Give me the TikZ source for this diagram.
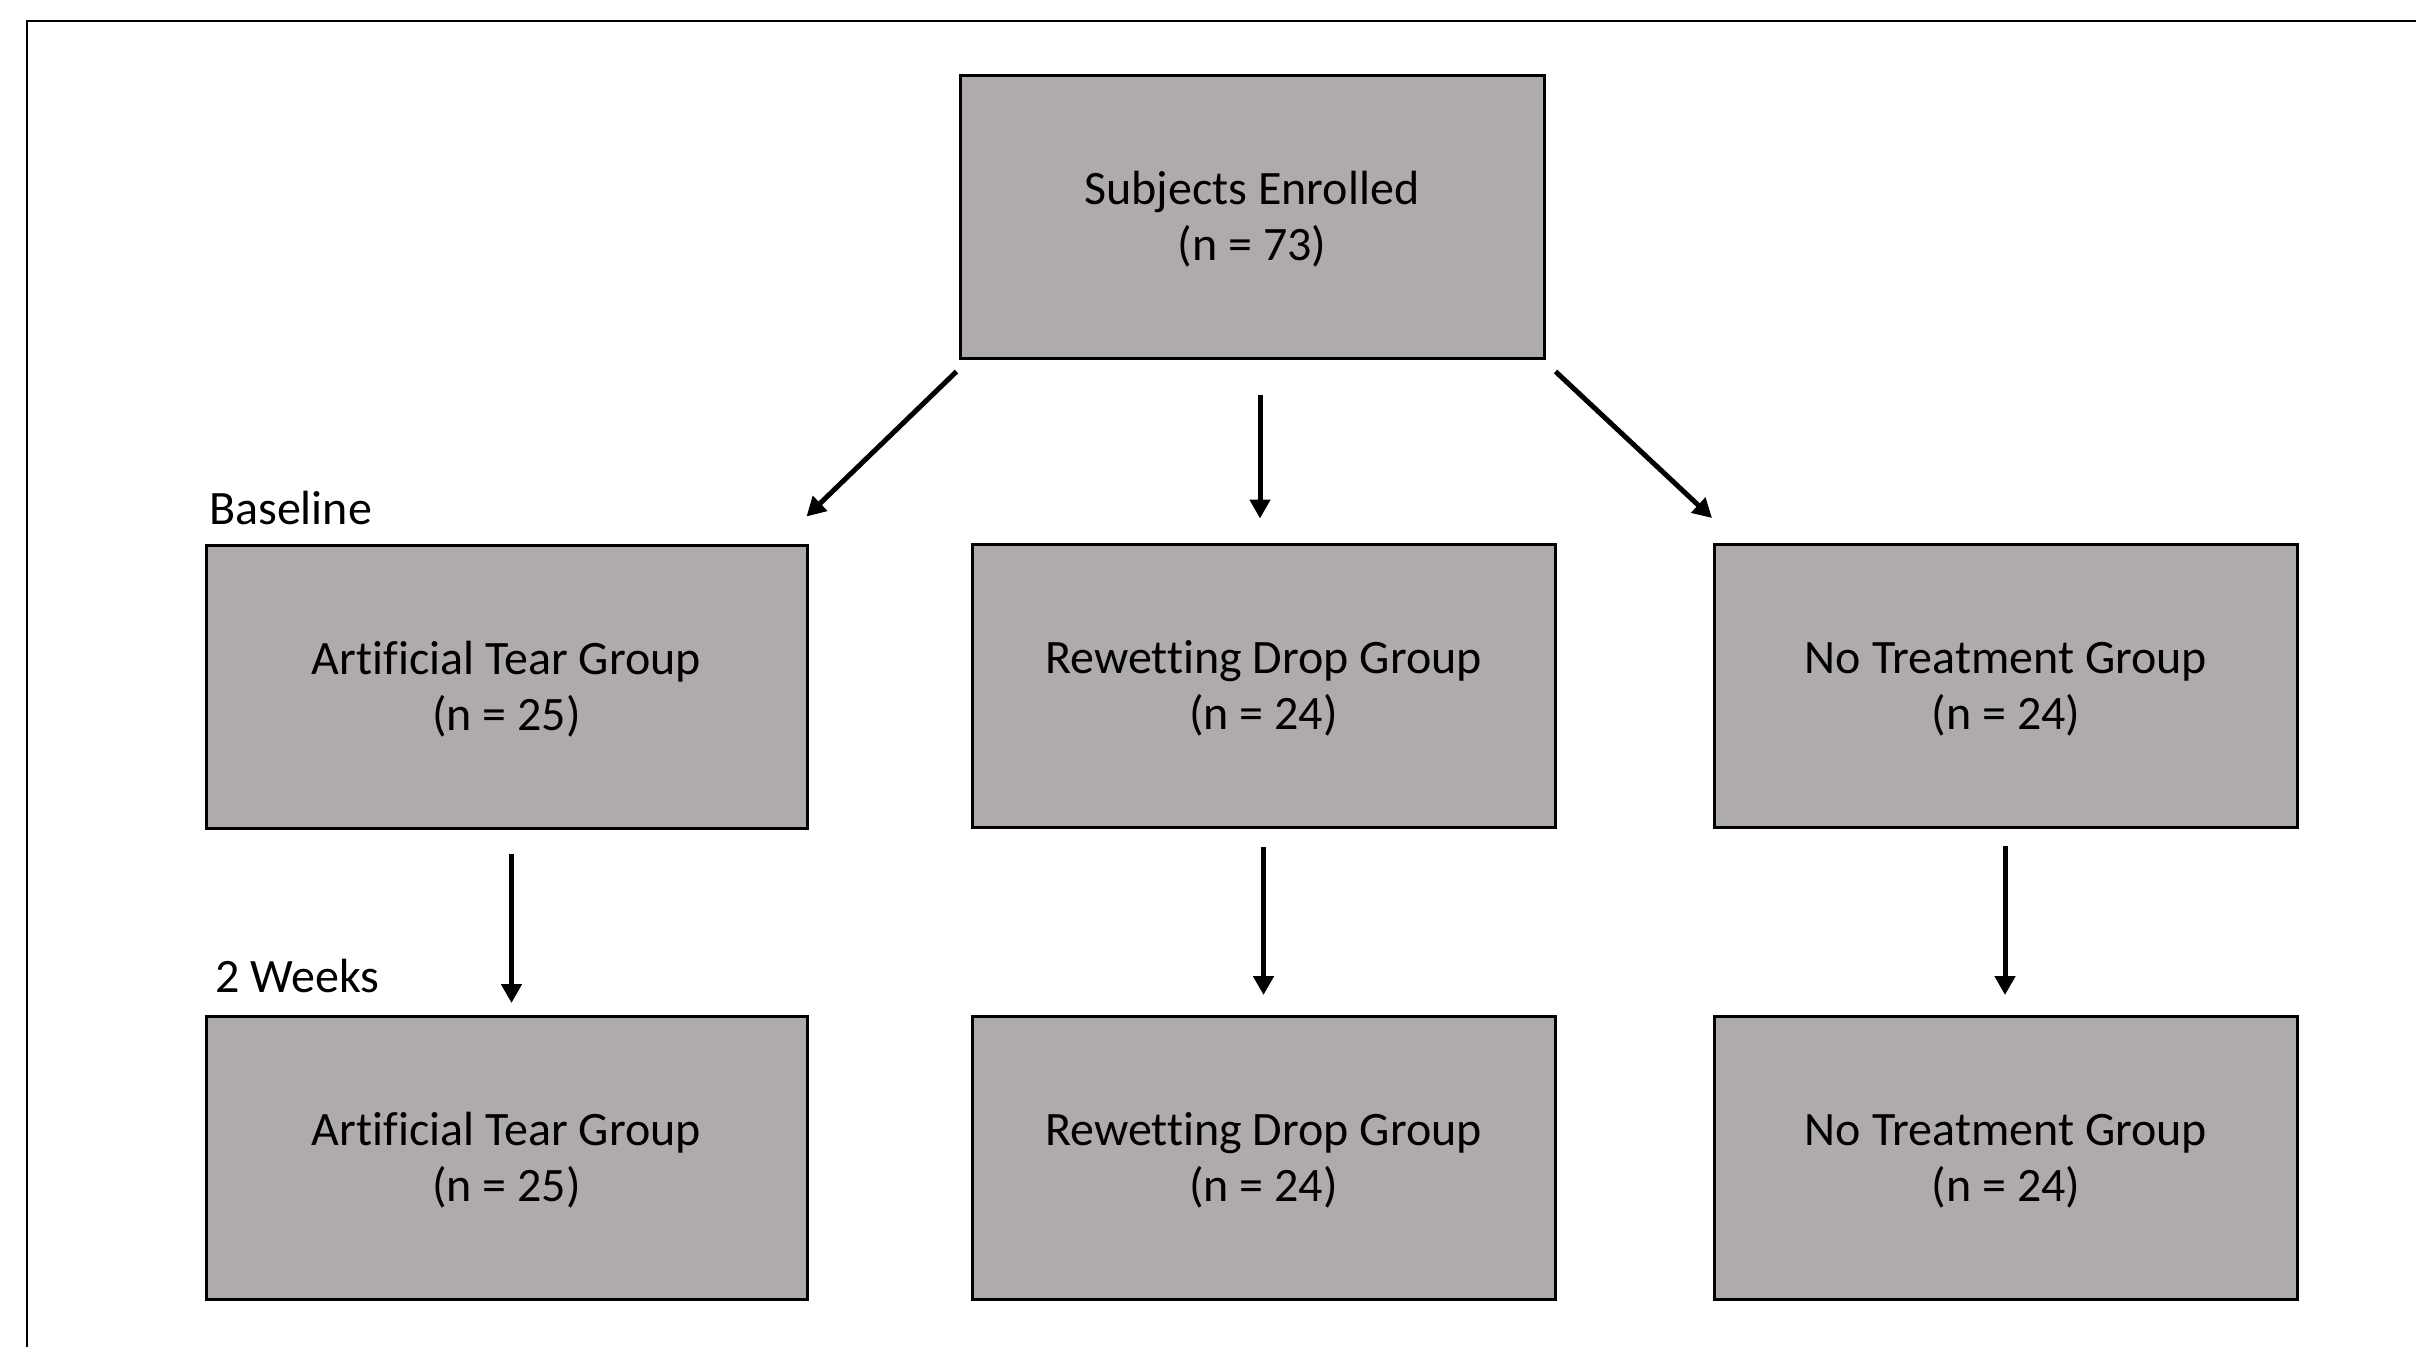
\documentclass[tikz,border=0pt]{standalone}
\usepackage{fontspec}
\setmainfont[Ligatures=NoCommon]{Carlito}
\usetikzlibrary{arrows.meta}
\definecolor{boxgray}{RGB}{175,171,171}
\newcommand{\twol}[2]{\raisebox{-11pt}[0pt][0pt]{\begin{tabular}{@{}c@{}}#1\\[1pt]#2\end{tabular}}}
\tikzset{
  gbox/.style={draw=black, line width=3pt, fill=boxgray, inner sep=0pt, align=center,
    font=\fontsize{48}{55}\selectfont},
  gboxA/.style={gbox, minimum width=601pt, minimum height=283pt},
  gboxB/.style={gbox, minimum width=583pt, minimum height=283pt},
  arr/.style={line width=5pt, -{Triangle[length=19pt,width=20pt]}},
  lbl/.style={inner sep=0pt, anchor=base west, font=\fontsize{48}{55}\selectfont}
}
\begin{document}
\begin{tikzpicture}[x=1pt,y=-1pt]
\useasboundingbox (0,0) rectangle (2416,1347);
\fill[white] (0,0) rectangle (2416,1347);
% frame
\draw[line width=2.5pt] (27,1347) -- (27,21) -- (2416,21);
% nodes
\node[gboxB, minimum width=584pt] (top) at (1252,216.5) {\twol{Subjects Enrolled}{(n = 73)}};
\node[gboxA] (at1) at (506.5,686.5) {\twol{Artificial Tear Group}{(n = 25)}};
\node[gboxB] (rd1) at (1263.5,685.5) {\twol{Rewetting Drop Group}{(n = 24)}};
\node[gboxB] (nt1) at (2006,686) {\twol{No Treatment Group}{(n = 24)}};
\node[gboxA] (at2) at (506.5,1158) {\twol{Artificial Tear Group}{(n = 25)}};
\node[gboxB] (rd2) at (1263.5,1158) {\twol{Rewetting Drop Group}{(n = 24)}};
\node[gboxB] (nt2) at (2006,1158) {\twol{No Treatment Group}{(n = 24)}};
% labels
\node[lbl] (bl) at (209,524) {Baseline};
\node[lbl] (wk) at (215,992) {2 Weeks};
% connectors
\draw[arr] ([shift={(-2,12)}]top.south west) -- ([shift={(-2,-27)}]at1.north east);
\draw[arr] ([shift={(8,35)}]top.south) -- ([shift={(-3.5,-24)}]rd1.north);
\draw[arr] ([shift={(10,12)}]top.south east) -- ([shift={(-1,-25)}]nt1.north west);
\draw[arr] ([shift={(5,24)}]at1.south) -- ([shift={(5,-12)}]at2.north);
\draw[arr] ([shift={(0,18)}]rd1.south) -- ([shift={(0,-20)}]rd2.north);
\draw[arr] ([shift={(-1,17)}]nt1.south) -- ([shift={(-1,-20)}]nt2.north);
\end{tikzpicture}
\end{document}
